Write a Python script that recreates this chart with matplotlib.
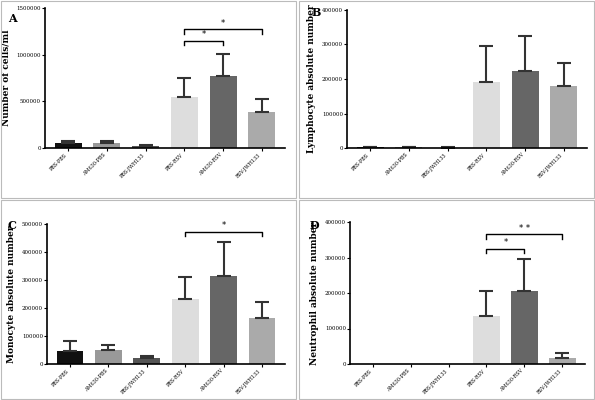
import matplotlib
matplotlib.use("Agg")
import matplotlib.pyplot as plt
from matplotlib.patches import Rectangle

cats = ["PBS-PBS", "AM630-PBS", "PBS-JWH133", "PBS-RSV", "AM630-RSV", "RSV-JWH133"]
colors = ["#111111", "#999999", "#555555", "#dddddd", "#666666", "#aaaaaa"]
A_vals = [50000, 55000, 20000, 550000, 770000, 390000]
A_err = [30000, 20000, 10000, 200000, 240000, 140000]
B_vals = [2000, 2000, 1000, 190000, 222000, 180000]
B_err = [2000, 2000, 1000, 105000, 103000, 65000]
C_vals = [48000, 51000, 22000, 231000, 316000, 163000]
C_err = [34000, 18000, 8000, 79000, 121000, 59000]
D_vals = [0, 0, 0, 135000, 207000, 18000]
D_err = [0, 0, 0, 70000, 88000, 14000]

panels = [
    ("A", "Number of cells/ml", A_vals, A_err, 1500000, [0, 500000, 1000000, 1500000],
     [(3, 4, 1150000, "*"), (3, 5, 1270000, "*")], [45/595, 1-148/400, 240/595, 140/400], (8, 18)),
    ("B", "Lymphocyte absolute number", B_vals, B_err, 400000, [0, 100000, 200000, 300000, 400000],
     [], [347/595, 1-148/400, 240/595, 138/400], (312, 12)),
    ("C", "Monocyte absolute number", C_vals, C_err, 500000, [0, 100000, 200000, 300000, 400000, 500000],
     [(3, 5, 473000, "*")], [47/595, 1-364/400, 238/595, 140/400], (8, 226)),
    ("D", "Neutrophil absolute number", D_vals, D_err, 400000, [0, 100000, 200000, 300000, 400000],
     [(3, 4, 325000, "*"), (3, 5, 365000, "* *")], [350/595, 1-364/400, 235/595, 142/400], (310, 226)),
]

fig = plt.figure(figsize=(5.95, 4.0), dpi=100)
for r in [(0.002, 0.505, 0.495, 0.492), (0.503, 0.505, 0.495, 0.492),
          (0.002, 0.003, 0.495, 0.497), (0.503, 0.003, 0.495, 0.497)]:
    fig.patches.append(Rectangle(r[:2], r[2], r[3], transform=fig.transFigure, fill=False, ec="#bbbbbb", lw=0.8))

for letter, ylabel, vals, errs, ymax, ticks, sigs, rect, lp in panels:
    ax = fig.add_axes(rect)
    x = list(range(len(cats)))
    ax.bar(x, vals, width=0.7, color=colors)
    for xi, v, e in zip(x, vals, errs):
        if e > 0:
            ax.errorbar(xi, v, yerr=[[0], [e]], color="#333333", capsize=5, lw=1.5, capthick=1.5)
    ax.set_ylim(0, ymax)
    ax.set_xlim(-0.6, 5.6)
    ax.set_yticks(ticks)
    ax.set_yticklabels([str(t) for t in ticks], fontsize=4, family="DejaVu Serif")
    ax.set_xticks(x)
    ax.set_xticklabels(cats, rotation=45, ha="right", fontsize=3.5, family="DejaVu Serif")
    ax.set_ylabel(ylabel, fontsize=6.5, fontweight="bold", family="DejaVu Serif")
    for s in ["top", "right"]:
        ax.spines[s].set_visible(False)
    for s in ["left", "bottom"]:
        ax.spines[s].set_linewidth(1.2)
    ax.tick_params(length=2, width=0.8, pad=1)
    for a, b, y, t in sigs:
        h = ymax * 0.03
        ax.plot([a, a, b, b], [y - h, y, y, y - h], color="black", lw=1)
        ax.text((a + b) / 2, y + ymax * 0.01, t, ha="center", va="bottom", fontsize=6)
    fig.text(lp[0] / 595, 1 - lp[1] / 400, letter, fontsize=8, fontweight="bold",
             family="DejaVu Serif", va="center")

fig.savefig("out.png", dpi=100)
